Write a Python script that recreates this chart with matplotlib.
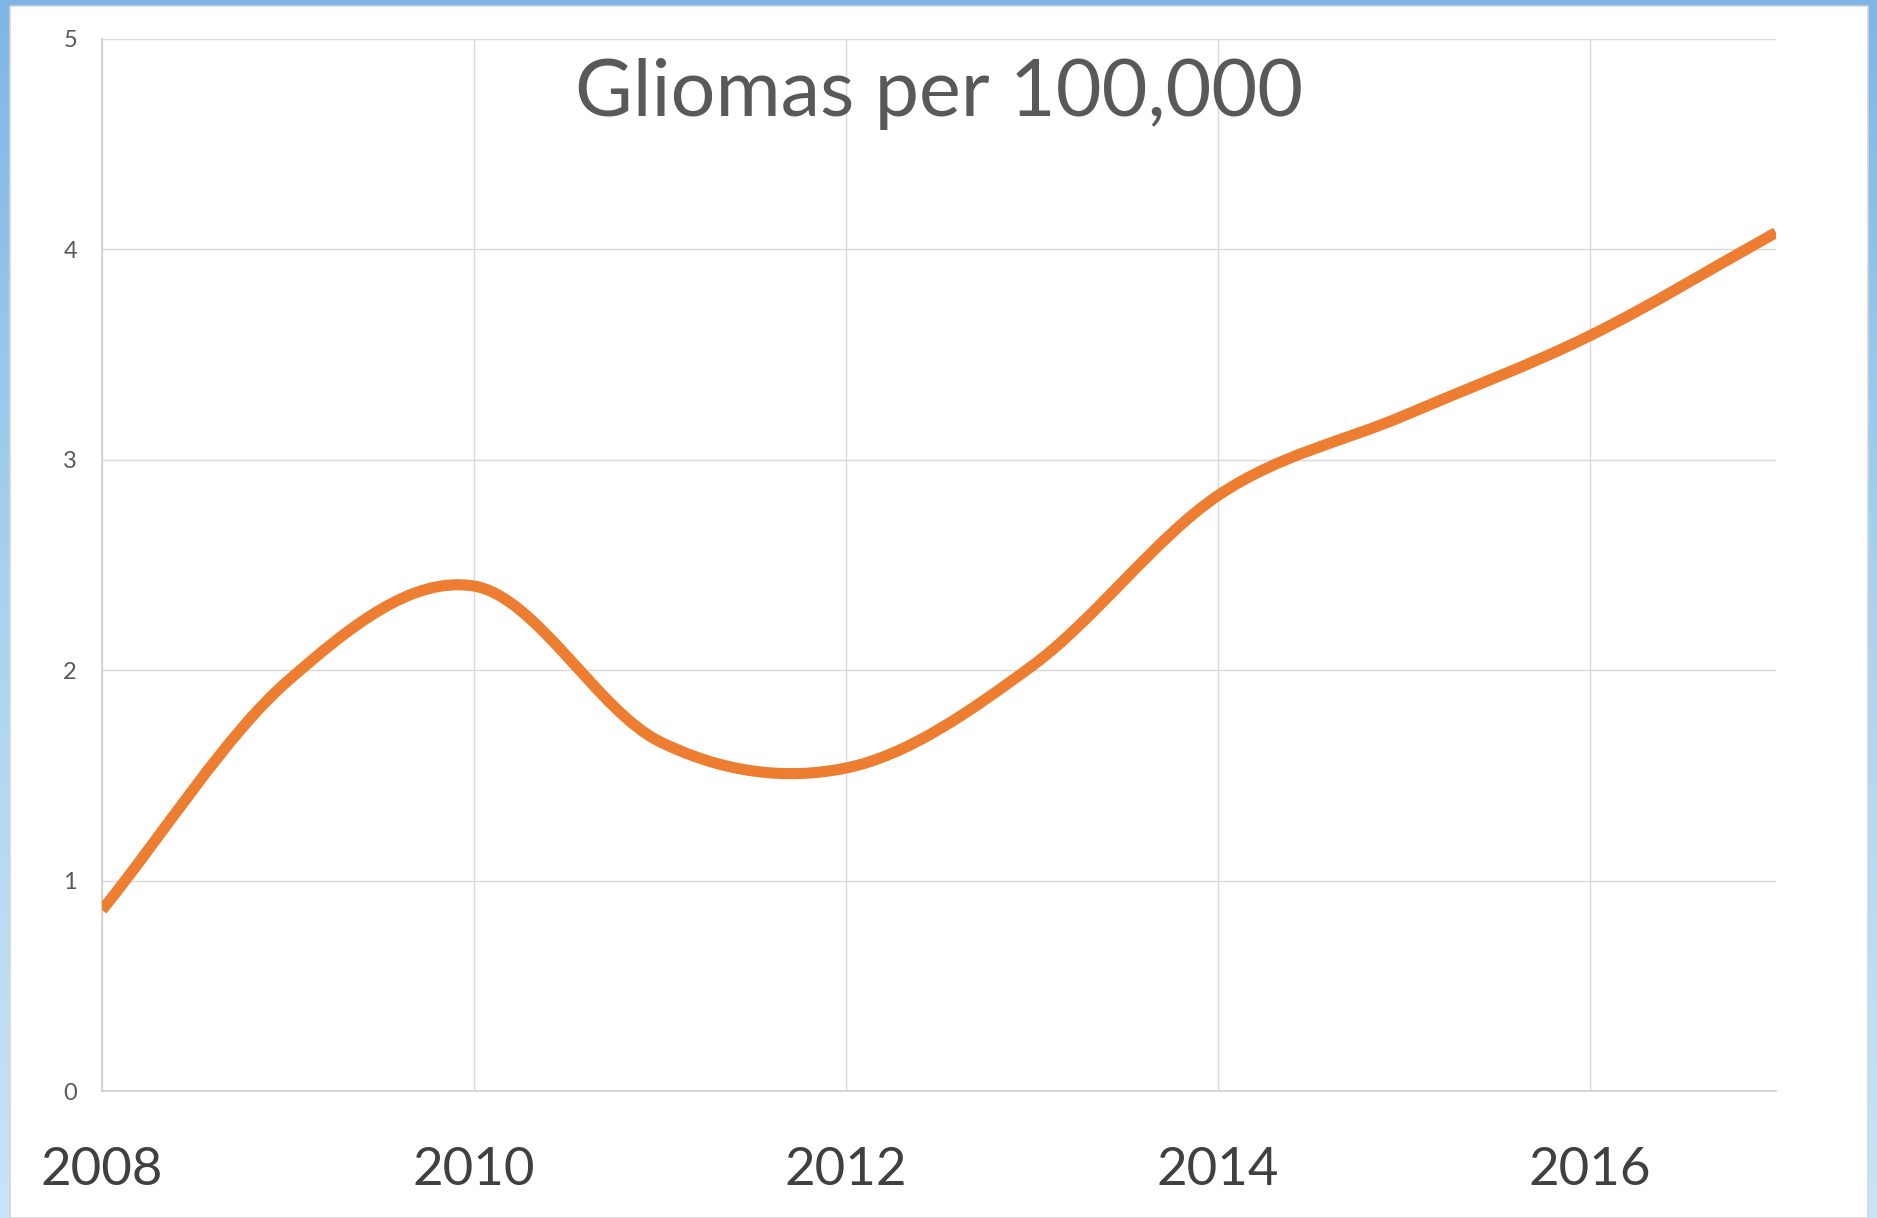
import numpy as np
import matplotlib
matplotlib.use("Agg")
import matplotlib.pyplot as plt
from matplotlib.path import Path
from matplotlib.patches import PathPatch, Rectangle
from matplotlib.colors import LinearSegmentedColormap

# ---- data ----
years = [2008, 2009, 2010, 2011, 2012, 2013, 2014, 2015, 2016, 2017]
gliomas = [0.86, 1.95, 2.40, 1.66, 1.535, 2.02, 2.83, 3.21, 3.59, 4.08]
x_ticks = [2008, 2010, 2012, 2014, 2016]
y_ticks = [0, 1, 2, 3, 4, 5]
title = "Gliomas per 100,000"

W, H, DPI = 1877, 1218, 100
fig = plt.figure(figsize=(W / DPI, H / DPI), dpi=DPI)

# blue window-frame background with a soft gradient
bg = fig.add_axes([0, 0, 1, 1], zorder=-10)
grad = np.linspace(0, 1, 256).reshape(-1, 1)
cmap = LinearSegmentedColormap.from_list("frame", ["#7DB6E6", "#A9D3F1", "#C9E4F6"])
bg.imshow(grad, aspect="auto", cmap=cmap, extent=[0, 1, 0, 1], origin="upper")
bg.set_axis_off()
bg.add_patch(Rectangle((10 / W, 0), (1868 - 10) / W, 1 - 6 / H,
                       transform=bg.transAxes, facecolor="white",
                       edgecolor="#D4D4D4", linewidth=1.2))

font = ["Lato", "DejaVu Sans"]

ax = fig.add_axes([102 / W, 1 - 1091 / H, (1776 - 102) / W, (1091 - 39) / H])
ax.set_facecolor("none")

# smoothed line (Excel-style Catmull-Rom Bezier through the yearly values)
xs = np.array(years, dtype=float)
ys = np.array(gliomas, dtype=float)
n = len(xs)
tx = np.zeros(n)
ty = np.zeros(n)
for i in range(n):
    if i == 0:
        tx[i], ty[i] = xs[1] - xs[0], ys[1] - ys[0]
    elif i == n - 1:
        tx[i], ty[i] = xs[-1] - xs[-2], ys[-1] - ys[-2]
    else:
        tx[i], ty[i] = (xs[i + 1] - xs[i - 1]) / 2, (ys[i + 1] - ys[i - 1]) / 2
verts = [(xs[0], ys[0])]
codes = [Path.MOVETO]
for i in range(n - 1):
    c1 = (xs[i] + tx[i] / 3, ys[i] + ty[i] / 3)
    c2 = (xs[i + 1] - tx[i + 1] / 3, ys[i + 1] - ty[i + 1] / 3)
    verts += [c1, c2, (xs[i + 1], ys[i + 1])]
    codes += [Path.CURVE4] * 3
ax.add_patch(PathPatch(Path(verts, codes), facecolor="none",
                       edgecolor="#ED7D31", linewidth=8,
                       capstyle="butt", joinstyle="round", zorder=3))

ax.set_xlim(2008, 2017)
ax.set_ylim(0, 5)
ax.set_xticks(x_ticks)
ax.set_yticks(y_ticks)
ax.set_xticklabels([str(t) for t in x_ticks])
ax.set_yticklabels([str(t) for t in y_ticks])
ax.grid(True, color="#D9D9D9", linewidth=1.0, zorder=0)
for s in ["top", "right"]:
    ax.spines[s].set_visible(False)
for s in ["left", "bottom"]:
    ax.spines[s].set_color("#D0D0D0")
    ax.spines[s].set_linewidth(1.2)
ax.tick_params(axis="both", length=0)
ax.tick_params(axis="x", pad=40, labelsize=38, labelcolor="#404040")
ax.tick_params(axis="y", pad=18, labelsize=17, labelcolor="#595959")
for lab in ax.get_xticklabels() + ax.get_yticklabels():
    lab.set_family(font)

fig.text((102 + 1776) / 2 / W, 1 - 116 / H, title, ha="center", va="baseline",
         fontsize=57, color="#595959", family=font)

fig.savefig("out.png", dpi=DPI)
